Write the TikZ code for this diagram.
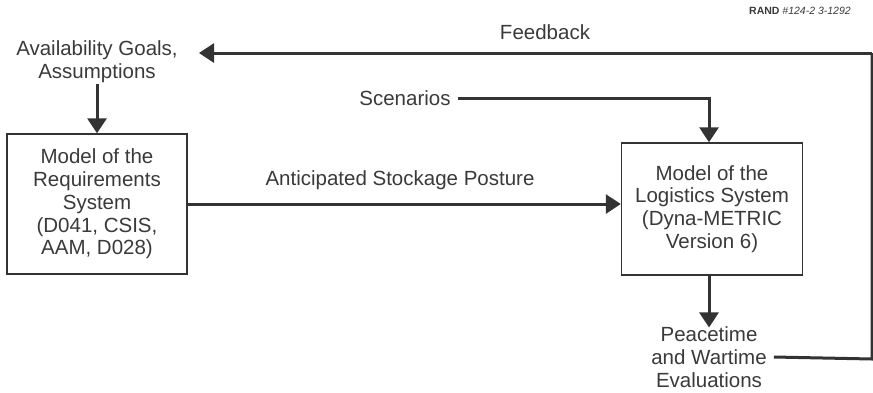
\documentclass[tikz,border=0pt]{standalone}
\usepackage{fontspec}
\setmainfont{Liberation Sans}
\usetikzlibrary{arrows.meta}
\definecolor{inkgrey}{HTML}{333333}
\definecolor{textgrey}{HTML}{3A3A3A}
\begin{document}
\begin{tikzpicture}[x=1pt,y=-1pt,
  lbl/.style={text=textgrey, align=center, font=\fontsize{20.5}{22.8}\selectfont, inner sep=1pt},
  modelbox/.style={lbl, draw=inkgrey, line width=1.5pt, fill=white},
  flow/.style={draw=inkgrey, line width=3pt, -{Triangle[width=19pt,length=15pt]}},
  feed/.style={draw=inkgrey, line width=3pt}]
\useasboundingbox (0,0) rectangle (873,392);
\node[font=\fontsize{10.5}{12}\selectfont, text=textgrey] (randid) at (800,11) {\textbf{RAND} \textit{\#124-2 3-1292}};
\node[lbl] (avail) at (97,62) {Availability Goals,\\Assumptions};
\node[modelbox, minimum width=180pt, minimum height=140pt] (req) at (97,204) {Model of the\\Requirements\\System\\(D041, CSIS,\\AAM, D028)};
\node[modelbox, minimum width=181pt, minimum height=132pt] (log) at (712,209) {Model of the\\Logistics System\\(Dyna-METRIC\\Version 6)};
\node[lbl] (scen) at (405,98) {Scenarios};
\node[lbl] (stock) at (400,180) {Anticipated Stockage Posture};
\node[lbl] (feedlbl) at (545,32) {Feedback};
\node[lbl] (peace) at (709,357) {Peacetime\\and Wartime\\Evaluations};
\coordinate (fbdown) at (872,359);
\coordinate (fbup) at (872,53);
\coordinate (fbend) at (199,53);
% arrows
\draw[flow] (avail.south) -- (req.north);
\draw[flow] (req.east) -- (req.east -| log.west);
\draw[flow] ([xshift=6pt]scen.east) -| (peace.north |- log.north);
\draw[flow] (peace.north |- log.south) -- ([yshift=-2pt]peace.north);
% feedback loop
\draw[feed] ([xshift=6pt]peace.east) -- (fbdown) -- (fbup);
\draw[flow] (fbup) -- (fbend);
\end{tikzpicture}
\end{document}
